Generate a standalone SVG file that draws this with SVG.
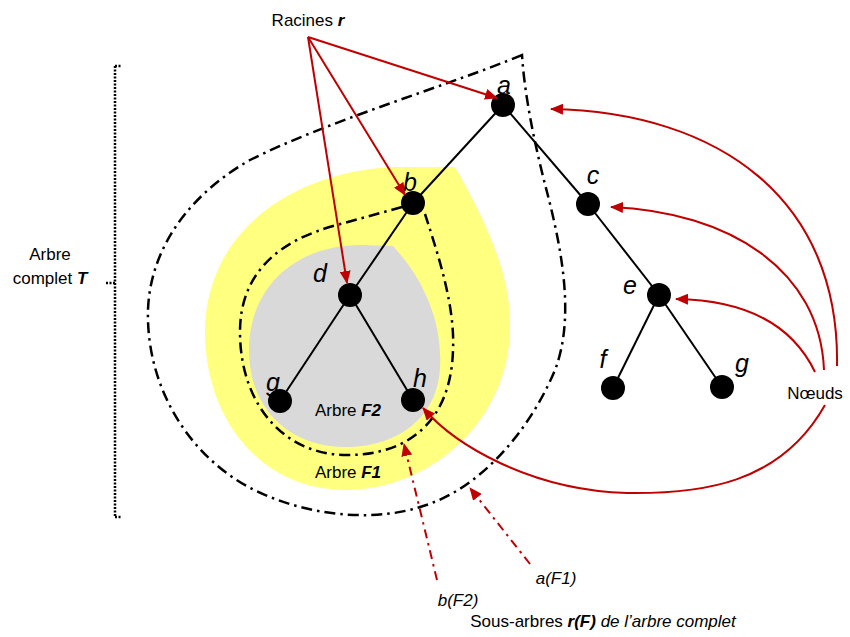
<svg xmlns="http://www.w3.org/2000/svg" width="850" height="637" viewBox="0 0 850 637">
<style>
  .lbl { font-family: "Liberation Sans", Arial, sans-serif; font-size: 17px; fill: #000; }
  .nl { font-family: "Liberation Sans", Arial, sans-serif; font-size: 25px; font-style: italic; fill: #000; text-anchor: middle; }
  .edge { stroke: #000; stroke-width: 2; fill: none; }
  .dd { stroke: #000; stroke-width: 2.5; fill: none; stroke-dasharray: 11 5 2.5 5; }
  .red { stroke: #C00000; stroke-width: 2; fill: none; }
  .reddd { stroke: #C00000; stroke-width: 2; fill: none; stroke-dasharray: 9 5 2.5 5; }
  .node { fill: #000; }
</style>
<defs>
  <marker id="ah" viewBox="0 0 13 11" refX="12" refY="5.5" markerWidth="13" markerHeight="11" markerUnits="userSpaceOnUse" orient="auto">
    <path d="M0,0 L13,5.5 L0,11 Z" fill="#C00000"/>
  </marker>
</defs>
<rect width="850" height="637" fill="#fff"/>

<g id="regions">
  <path id="F1-fill" d="M 455,167 C 482,215 512,272 510,330 C 508,420 432,490 345,490 C 262,490 205,420 205,332 C 205,240 280,175 390,167 Z" fill="#FFFF80"/>
  <path id="F2-fill" d="M 393,246 C 420,275 443,318 440,368 C 437,420 395,448 343,447 C 290,446 249,410 249,350 C 249,290 292,245 362,245 Z" fill="#D9D9D9"/>
</g>

<g id="boundaries">
  <path d="M 522,55 C 450,85 330,120 250,160 C 180,200 146,260 148,320 C 150,400 200,470 270,497 C 322,518 380,520 420,507 C 480,490 530,430 555,370 C 575,318 562,250 547,192 C 536,150 525,100 522,55 Z" class="dd"/>
  <path d="M 402,207 L 337,225 C 280,240 240,272 240,332 C 240,402 282,455 347,455 C 410,455 451,420 453,350 C 455,308 440,260 425,214" class="dd"/>
  <g id="bracket" stroke="#000" stroke-width="2.5" fill="none" stroke-dasharray="2 1.5">
    <line x1="115" y1="66" x2="115" y2="517"/>
    <line x1="115" y1="66" x2="121" y2="66"/>
    <line x1="115" y1="517" x2="121" y2="517"/>
    <line x1="106" y1="283" x2="115" y2="283"/>
  </g>
</g>

<g id="edges">
  <line x1="503" y1="105" x2="413" y2="203" class="edge"/>
  <line x1="503" y1="105" x2="588" y2="204" class="edge"/>
  <line x1="413" y1="203" x2="350" y2="295" class="edge"/>
  <line x1="350" y1="295" x2="280" y2="401" class="edge"/>
  <line x1="350" y1="295" x2="413" y2="400" class="edge"/>
  <line x1="588" y1="204" x2="659" y2="295" class="edge"/>
  <line x1="659" y1="295" x2="613" y2="388" class="edge"/>
  <line x1="659" y1="295" x2="722" y2="387" class="edge"/>
</g>

<g id="node-a"><text x="504" y="94" class="nl">a</text><circle cx="503" cy="105" r="12" class="node"/></g>
<g id="node-b"><circle cx="413" cy="203" r="12" class="node"/><text x="410" y="191" class="nl">b</text></g>
<g id="node-c"><circle cx="588" cy="204" r="12" class="node"/><text x="593" y="184" class="nl">c</text></g>
<g id="node-d"><circle cx="350" cy="295" r="12" class="node"/><text x="320" y="282" class="nl">d</text></g>
<g id="node-e"><circle cx="659" cy="295" r="12" class="node"/><text x="630" y="294" class="nl">e</text></g>
<g id="node-f"><circle cx="613" cy="388" r="12" class="node"/><text x="603" y="368" class="nl">f</text></g>
<g id="node-g2"><circle cx="722" cy="387" r="12" class="node"/><text x="742" y="372" class="nl">g</text></g>
<g id="node-g"><text x="273" y="391" class="nl">g</text><circle cx="280" cy="401" r="12" class="node"/></g>
<g id="node-h"><circle cx="413" cy="400" r="12" class="node"/><text x="420" y="387" class="nl">h</text></g>

<g id="connectors">
  <line x1="308" y1="37" x2="497" y2="98" class="red" marker-end="url(#ah)"/>
  <line x1="308" y1="37" x2="405" y2="195" class="red" marker-end="url(#ah)"/>
  <line x1="308" y1="37" x2="347" y2="283" class="red" marker-end="url(#ah)"/>
  <path d="M 837,366 C 840,200 720,112 551,109" class="red" marker-end="url(#ah)"/>
  <path d="M 824,370 C 820,270 730,212 611,207" class="red" marker-end="url(#ah)"/>
  <path d="M 815,372 C 790,320 740,300 676,299" class="red" marker-end="url(#ah)"/>
  <path d="M 825,405 C 780,485 700,494 627,493 C 530,490 455,445 423,408" class="red" marker-end="url(#ah)"/>
  <line x1="437" y1="580" x2="404" y2="444" class="reddd" marker-end="url(#ah)"/>
  <line x1="530" y1="564" x2="470" y2="488" class="reddd" marker-end="url(#ah)"/>
</g>

<g id="labels">
  <text x="308" y="26" class="lbl" text-anchor="middle">Racines <tspan font-weight="bold" font-style="italic">r</tspan></text>
  <text x="50" y="260" class="lbl" text-anchor="middle">Arbre</text>
  <text x="50" y="284" class="lbl" text-anchor="middle">complet <tspan font-weight="bold" font-style="italic">T</tspan></text>
  <text x="815" y="399" class="lbl" text-anchor="middle">Nœuds</text>
  <text x="348" y="416" class="lbl" text-anchor="middle">Arbre <tspan font-weight="bold" font-style="italic">F2</tspan></text>
  <text x="348" y="478" class="lbl" text-anchor="middle">Arbre <tspan font-weight="bold" font-style="italic">F1</tspan></text>
  <text x="458" y="606" class="lbl" text-anchor="middle" font-style="italic">b(F2)</text>
  <text x="556" y="584" class="lbl" text-anchor="middle" font-style="italic">a(F1)</text>
  <text x="603" y="627" class="lbl" text-anchor="middle">Sous-arbres <tspan font-weight="bold" font-style="italic">r(F)</tspan><tspan font-style="italic"> de l’arbre complet</tspan></text>
</g>
</svg>
